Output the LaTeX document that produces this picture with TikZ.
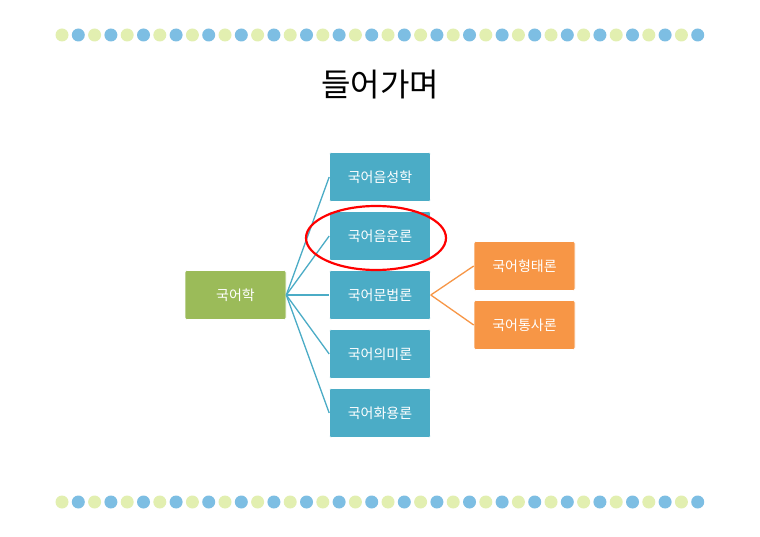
\documentclass[tikz,border=0pt]{standalone}
\usepackage{fontspec}
\usetikzlibrary{shapes.geometric}
\newfontfamily\kr{Noto Sans CJK KR}
\definecolor{bl}{HTML}{4BACC6}
\definecolor{gr}{HTML}{9BBB59}
\definecolor{og}{HTML}{F79646}
\definecolor{dg}{HTML}{E2EFB0}
\definecolor{db}{HTML}{7DBEE3}
\begin{document}
\begin{tikzpicture}[x=1pt,y=-1pt,
 box/.style={draw=white,line width=0.6pt,rounded corners=2pt,minimum width=101pt,minimum height=49pt,text=white,font=\kr\fontsize{14}{16}\selectfont,inner sep=0pt},
 ln/.style={line width=1.3pt}]
\useasboundingbox (0,0) rectangle (760,537);
\fill[white] (0,0) rectangle (760,537);
\foreach \i in {0,...,39}{
 \pgfmathsetmacro{\xx}{62+16.3*\i}
 \ifodd\i \def\c{db}\else\def\c{dg}\fi
 \fill[\c] (\xx,35) circle (6.5pt);
 \fill[\c] (\xx,502) circle (6.5pt);
}
\node[font=\kr\fontsize{32}{36}\selectfont] (t) at (380,85) {들어가며};
\node[box,fill=gr] (r) at (235.5,295) {국어학};
\node[box,fill=bl] (a) at (380,177) {국어음성학};
\node[box,fill=bl] (b) at (380,236) {국어음운론};
\node[box,fill=bl] (c) at (380,295) {국어문법론};
\node[box,fill=bl] (d) at (380,354) {국어의미론};
\node[box,fill=bl] (e) at (380,413) {국어화용론};
\node[box,fill=og] (f) at (524.5,266) {국어형태론};
\node[box,fill=og] (g) at (524.5,325) {국어통사론};
\foreach \n in {a,b,c,d,e} \draw[ln,bl] (r.east) -- (\n.west);
\foreach \n in {f,g} \draw[ln,og] (c.east) -- (\n.west);
\node[draw=red,line width=2.2pt,ellipse,minimum width=140pt,minimum height=64pt] (o) at (376,238) {};
\end{tikzpicture}
\end{document}
